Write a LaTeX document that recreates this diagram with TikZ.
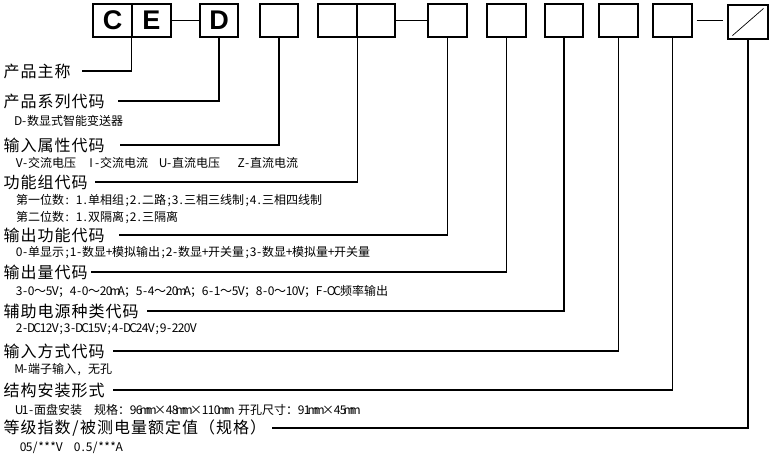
\documentclass[tikz,border=0pt]{standalone}
\usepackage{fontspec}
\setmainfont{Noto Sans CJK SC}
\newfontfamily\arialfont{Liberation Sans}
\makeatletter
\def\cl@end{\cl@end@sentinel}
\newcommand\cellrow[3]{\def\cl@full{#1}\def\cl@half{#2}\cl@loop#3\cl@end}
\def\cl@loop#1{\ifx\cl@end#1\else\cl@char{#1}\expandafter\cl@loop\fi}
\def\cl@char#1{\ifnum`#1<128 \makebox[\cl@half][c]{#1}\else\makebox[\cl@full][c]{#1}\fi}
\makeatother
\newcommand\lab[1]{\cellrow{17pt}{8.5pt}{#1}}
\newcommand\dsc[1]{\cellrow{12pt}{6pt}{#1}}
\tikzset{
  box/.style={draw, line width=1.2pt, inner sep=0pt, minimum width=39pt, minimum height=33pt,
    font=\arialfont\bfseries\fontsize{27pt}{27pt}\selectfont},
  labnode/.style={anchor=west, inner sep=0pt, font=\fontsize{16pt}{16pt}\selectfont},
  descnode/.style={anchor=west, inner sep=0pt, font=\fontsize{12pt}{12pt}\selectfont},
  conn/.style={line width=1.2pt},
}
\begin{document}
\begin{tikzpicture}[x=1pt,y=-1pt]
\fill[white] (0,0) rectangle (771,458);
\useasboundingbox (0,0) rectangle (771,458);
% top row of boxes
\node[box] (b1) at (112.5,20.5) {C};
\node[box] (b2) at (151.5,20.5) {E};
\node[box, minimum width=38pt] (b3) at (219,20.5) {D};
\node[box, minimum width=38pt] (b4) at (279,20.5) {};
\node[box] (b5a) at (337.5,20.5) {};
\node[box, minimum width=38pt] (b5b) at (376,20.5) {};
\node[box] (b6) at (447.5,20.5) {};
\node[box] (b7) at (506.5,20.5) {};
\node[box, minimum width=38pt] (b8) at (564,20.5) {};
\node[box] (b9) at (618.5,20.5) {};
\node[box] (b10) at (672.5,20.5) {};
\node[box, minimum width=40pt, minimum height=34pt] (b11) at (748,22) {};
\draw[line width=0.7pt] ([xshift=5pt,yshift=4pt]b11.south west) -- ([xshift=-5pt,yshift=-4pt]b11.north east);
% links between boxes
\draw[conn] (b2.east) -- (b3.west);
\draw[conn] (b5b.east) -- (b6.west);
\draw[conn] ([xshift=4pt]b10.east) -- ([xshift=-4pt]b11.west |- b10.east);
% labels
\node[labnode] (l1) at (3,71) {\lab{产品主称}};
\node[labnode] (l2) at (3,101) {\lab{产品系列代码}};
\node[descnode] (d1) at (15,121) {\dsc{D-数显式智能变送器}};
\node[labnode] (l3) at (3,145) {\lab{输入属性代码}};
\node[descnode] (d2) at (16,163) {\dsc{V-交流电压~~I-交流电流~~U-直流电压~~~Z-直流电流}};
\node[labnode] (l4) at (3,182) {\lab{功能组代码}};
\node[descnode] (d3) at (16,201) {\dsc{第一位数:~1.单相组;2.二路;3.三相三线制;4.三相四线制}};
\node[descnode] (d4) at (16,218) {\dsc{第二位数:~1.双隔离;2.三隔离}};
\node[labnode] (l5) at (3,235) {\lab{输出功能代码}};
\node[descnode] (d5) at (16,253) {\dsc{0-单显示;1-数显+模拟输出;2-数显+开关量;3-数显+模拟量+开关量}};
\node[labnode] (l6) at (3,272) {\lab{输出量代码}};
\node[descnode] (d6) at (16,291) {\dsc{3-0～5V；4-0～20mA；5-4～20mA；6-1～5V；8-0～10V；F-OC频率输出}};
\node[labnode] (l7) at (3,311) {\lab{辅助电源种类代码}};
\node[descnode] (d7) at (16,329) {\dsc{2-DC12V;3-DC15V;4-DC24V;9-220V}};
\node[labnode] (l8) at (3,351) {\lab{输入方式代码}};
\node[descnode] (d8) at (16,370) {\dsc{M-端子输入,~无孔}};
\node[labnode] (l9) at (3,390) {\lab{结构安装形式}};
\node[descnode] (d9) at (16,410) {\dsc{U1-面盘安装~~规格：96mm×48mm×110mm~开孔尺寸：91mm×45mm}};
\node[labnode] (l10) at (3,428) {\lab{等级指数/被测电量额定值（规格）}};
\node[descnode] (d10) at (20,448) {\dsc{05/***V~~0.5/***A}};
% connectors
\draw[conn] (b2.south west) |- ([xshift=11pt]l1.east);
\draw[conn] (b3.south) |- ([xshift=13pt]l2.east);
\draw[conn] (b4.south) |- ([xshift=15pt]l3.east);
\draw[conn] (b5a.south east) |- ([xshift=7pt]l4.east);
\draw[conn] (b6.south) |- ([xshift=14pt]l5.east);
\draw[conn] (b7.south) |- ([xshift=3pt]l6.east);
\draw[conn] (b8.south) |- ([xshift=8pt]l7.east);
\draw[conn] (b9.south) |- ([xshift=8pt]l8.east);
\draw[conn] (b10.south) |- ([xshift=8pt]l9.east);
\draw[conn] (b11.south) |- ([xshift=5pt]l10.east);
\end{tikzpicture}
\end{document}
